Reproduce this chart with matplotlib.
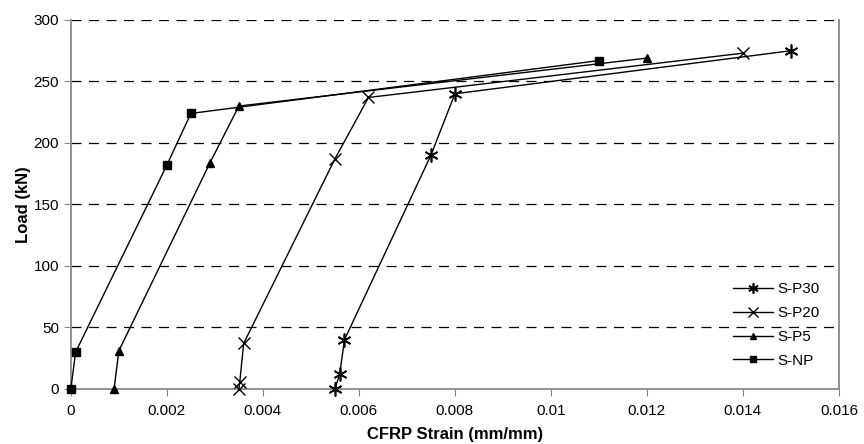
import matplotlib.pyplot as plt
import numpy as np

plt.rcParams['font.family'] = ['Liberation Sans', 'DejaVu Sans']

# strain (mm/mm) and load (kN) for each specimen
strain_p30 = [0.0055, 0.0056, 0.0057, 0.0075, 0.0080, 0.0150]
load_p30 = [0, 12, 40, 190, 240, 275]

strain_p20 = [0.0035, 0.00352, 0.0036, 0.0055, 0.0062, 0.0140]
load_p20 = [0, 6, 37, 187, 237, 273]

strain_p5 = [0.0009, 0.0010, 0.0029, 0.0035, 0.0120]
load_p5 = [0, 31, 184, 230, 269]

strain_np = [0.0, 0.0001, 0.0020, 0.0025, 0.0110]
load_np = [0, 30, 182, 224, 267]

fig = plt.figure(figsize=(8.64, 4.44), dpi=100)
ax = fig.add_axes([0.082, 0.124, 0.889, 0.831])

style = dict(color='black', lw=1, clip_on=False, zorder=3)
ax.plot(strain_p30, load_p30, marker=(6, 2, 0), ms=10, mew=1.2, label='S-P30', **style)
ax.plot(strain_p20, load_p20, marker='x', ms=9, mew=1, label='S-P20', **style)
ax.plot(strain_p5, load_p5, marker='^', ms=6, label='S-P5', **style)
ax.plot(strain_np, load_np, marker='s', ms=5.5, label='S-NP', **style)

ax.set_xlim(0, 0.016)
ax.set_ylim(0, 300)
ax.set_xticks(np.arange(0, 0.0161, 0.002))
ax.set_xticklabels(['0', '0.002', '0.004', '0.006', '0.008', '0.01', '0.012', '0.014', '0.016'])
ax.set_yticks(range(0, 301, 50))

for y in range(50, 301, 50):
    ax.axhline(y, color='black', lw=0.9, dashes=(8, 6), zorder=0)

for s in ['left', 'bottom', 'right']:
    ax.spines[s].set_color('#888888')
    ax.spines[s].set_linewidth(1.3)
ax.spines['top'].set_visible(False)
ax.tick_params(direction='out', length=5, color='#888888', labelsize=11)
ax.tick_params(axis='x', pad=6)

ax.set_xlabel('CFRP Strain (mm/mm)', fontsize=12, fontweight='bold', labelpad=6)
ax.set_ylabel('Load (kN)', fontsize=12, fontweight='bold', labelpad=2)

ax.legend(loc='lower right', frameon=False, fontsize=11, handlelength=2.6,
          labelspacing=0.65, handletextpad=0.3, markerscale=0.75,
          bbox_to_anchor=(0.993, 0.02))

fig.savefig('out.png', dpi=100)
